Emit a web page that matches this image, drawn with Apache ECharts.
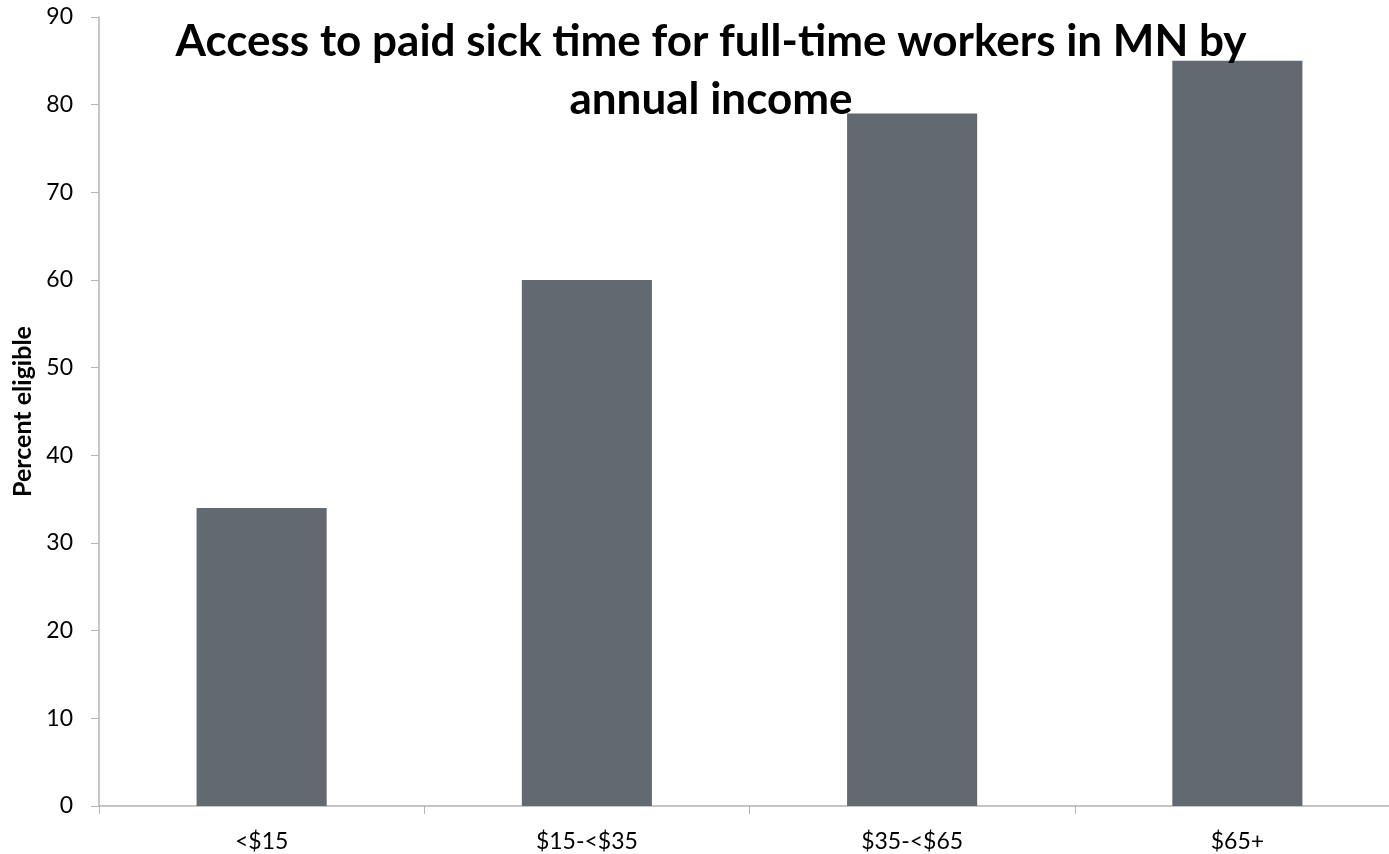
<!DOCTYPE html>
<html>
<head>
<meta charset="utf-8">
<script src="https://cdn.jsdelivr.net/npm/echarts@6/dist/echarts.min.js"></script>
<style>
html,body{margin:0;padding:0;background:#fff;overflow:hidden;width:1389px;height:854px;}
#chart{width:1410px;height:854px;}
</style>
</head>
<body>
<div id="chart"></div>
<script>
const categories = ['<$15', '$15-<$35', '$35-<$65', '$65+'];
const percentEligible = [34, 60, 79, 85];
const yTicks = [0, 10, 20, 30, 40, 50, 60, 70, 80, 90];
const titleText = 'Access to paid sick time for full-time workers in MN by\nannual income';
const yAxisName = 'Percent eligible';

const chart = echarts.init(document.getElementById('chart'));
const axisGray = '#b3b3b3';
const fontFam = 'Lato, "Open Sans", sans-serif';
chart.setOption({
  animation: false,
  backgroundColor: '#ffffff',
  title: {
    text: titleText,
    left: 706,
    textAlign: 'center',
    top: 8,
    textStyle: {
      fontFamily: fontFam,
      fontWeight: 'bold',
      fontSize: 44,
      lineHeight: 58,
      color: '#000'
    },
    z: 10
  },
  grid: {
    left: 99,
    top: 17,
    width: 1301,
    height: 789,
    containLabel: false
  },
  xAxis: {
    type: 'category',
    data: categories,
    axisLine: { lineStyle: { color: axisGray, width: 1.5 } },
    axisTick: { show: true, length: 8, lineStyle: { color: axisGray } },
    axisLabel: { color: '#000', fontSize: 23, fontFamily: fontFam, margin: 24 },
    splitLine: { show: false }
  },
  yAxis: {
    type: 'value',
    min: yTicks[0],
    max: yTicks[yTicks.length - 1],
    interval: 10,
    name: yAxisName,
    nameLocation: 'middle',
    nameGap: 63,
    nameTextStyle: { color: '#000', fontSize: 25, fontWeight: 'bold', fontFamily: fontFam },
    axisLine: { show: true, lineStyle: { color: axisGray, width: 1.5 } },
    axisTick: { show: true, length: 8, lineStyle: { color: axisGray } },
    axisLabel: { color: '#000', fontSize: 23, fontFamily: fontFam, margin: 26 },
    splitLine: { show: false }
  },
  series: [{
    type: 'bar',
    data: percentEligible,
    barWidth: '40%',
    itemStyle: { color: '#636970' },
    z: 2
  }]
});
</script>
</body>
</html>
